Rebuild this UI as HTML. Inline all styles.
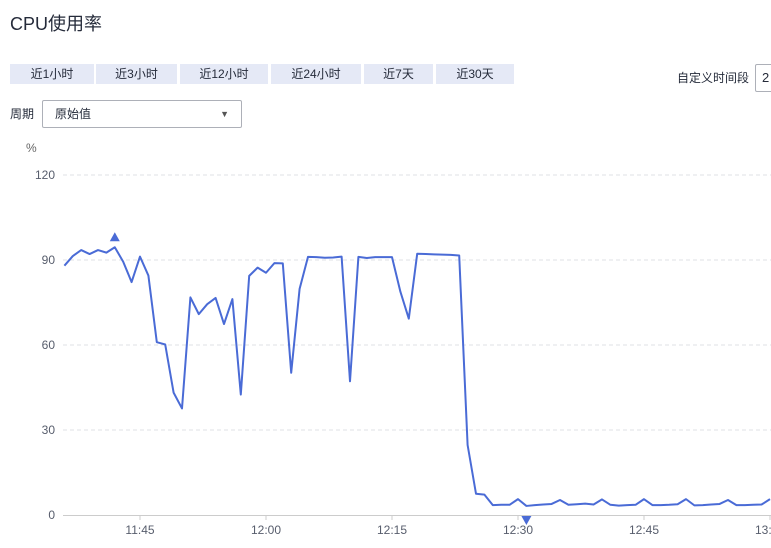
<!DOCTYPE html>
<html><head><meta charset="utf-8"><style>
body{margin:0;width:771px;height:548px;overflow:hidden;background:#fff;font-family:"Liberation Sans","Noto Sans CJK SC",sans-serif;position:relative;color:#252b3a}
.t{position:absolute;white-space:nowrap}
.btn{position:absolute;top:64px;height:20px;background:#e5e9f6;font-size:12px;line-height:20px;text-align:center;color:#252b3a}
</style></head><body>
<div class="t" style="left:10px;top:10px;font-size:18px;">CPU使用率</div>
<div class="btn" style="left:10px;width:84px">近1小时</div>
<div class="btn" style="left:96px;width:81px">近3小时</div>
<div class="btn" style="left:180px;width:88px">近12小时</div>
<div class="btn" style="left:271px;width:90px">近24小时</div>
<div class="btn" style="left:364px;width:69px">近7天</div>
<div class="btn" style="left:436px;width:78px">近30天</div>
<div class="t" style="left:677px;top:69px;font-size:12px">自定义时间段</div>
<div class="t" style="left:755px;top:64px;width:30px;height:26px;border:1px solid #adb0b8;border-radius:2px;font-size:13px;line-height:26px;padding-left:6px">2</div>
<div class="t" style="left:10px;top:105px;font-size:12px">周期</div>
<div class="t" style="left:42px;top:100px;width:198px;height:26px;border:1px solid #adb0b8;border-radius:2px;font-size:12px;line-height:26px"><span style="margin-left:12px">原始值</span><span style="position:absolute;right:12px;top:0;font-size:9px;color:#555">▼</span></div>
<svg id="c" width="771" height="548" style="position:absolute;left:0;top:0"></svg>
<script>
const yTicks=[0,30,60,90,120];
const xTickLabels=["11:45","12:00","12:15","12:30","12:45","13:00"];
const xTickMinutes=[9,24,39,54,69,84];
const cpuValues=[88.0,91.4,93.5,92.1,93.5,92.6,94.5,89.4,82.2,91.2,84.5,61.0,60.2,43.2,37.6,76.8,70.9,74.4,76.6,67.4,76.2,42.5,84.4,87.3,85.5,88.9,88.8,50.2,79.8,91.1,91.0,90.8,90.9,91.2,47.2,91.1,90.7,91.0,91.0,91.0,78.8,69.3,92.2,92.1,92.0,91.9,91.8,91.6,24.7,7.5,7.2,3.5,3.6,3.6,5.6,3.2,3.5,3.7,3.9,5.3,3.6,3.8,4.0,3.7,5.5,3.6,3.3,3.5,3.6,5.6,3.5,3.5,3.6,3.8,5.6,3.4,3.5,3.7,3.9,5.3,3.5,3.5,3.6,3.7,5.6];
const X0=64.4,PX=8.4,Y0=515,PY=340/120;
const sx=i=>X0+i*PX, sy=v=>Y0-v*PY;
const svg=document.getElementById('c'),NS="http://www.w3.org/2000/svg";
function mk(t,a,txt){const e=document.createElementNS(NS,t);for(const k in a)e.setAttribute(k,a[k]);if(txt!=null)e.textContent=txt;svg.appendChild(e);return e;}
let u=mk('text',{x:26,y:152,'font-size':12,fill:'#666','font-family':'Liberation Sans'},'%');


yTicks.forEach(v=>{
 if(v>0){const g=mk('line',{x1:63,x2:771,y1:sy(v),y2:sy(v),stroke:'#dfe1e6','stroke-dasharray':'4 3'});
 
 }
 const l=mk('text',{x:55,y:sy(v)+4,'font-size':12,fill:'#575d6c','text-anchor':'end','font-family':'Liberation Sans'},String(v));
 
 
});
const ax=mk('line',{x1:63,x2:771,y1:Y0+0.5,y2:Y0+0.5,stroke:'#ccc'});


xTickLabels.forEach((s,i)=>{
 const x=sx(xTickMinutes[i]);
 const tk=mk('line',{x1:x,x2:x,y1:Y0,y2:Y0+5,stroke:'#ccc'});
 
 
 const l=mk('text',{x:x,y:534,'font-size':12,fill:'#575d6c','text-anchor':'middle','font-family':'Liberation Sans'},s);
 
 
});
const p=mk('polyline',{points:cpuValues.map((v,i)=>sx(i)+','+sy(v)).join(' '),fill:'none',stroke:'#4a6bd6','stroke-width':2,'stroke-linejoin':'round'});


let mi=0,ni=0;cpuValues.forEach((v,i)=>{if(v>cpuValues[mi])mi=i;if(v<cpuValues[ni])ni=i;});
const mx=sx(mi),my=sy(cpuValues[mi])-10;
const t1=mk('polygon',{points:`${mx-5},${my+4} ${mx+5},${my+4} ${mx},${my-5}`,fill:'#4a6bd6'});


const nx=sx(ni),ny=Y0+1;
const t2=mk('polygon',{points:`${nx-5},${ny} ${nx+5},${ny} ${nx},${ny+9}`,fill:'#4a6bd6'});


</script>
</body></html>
